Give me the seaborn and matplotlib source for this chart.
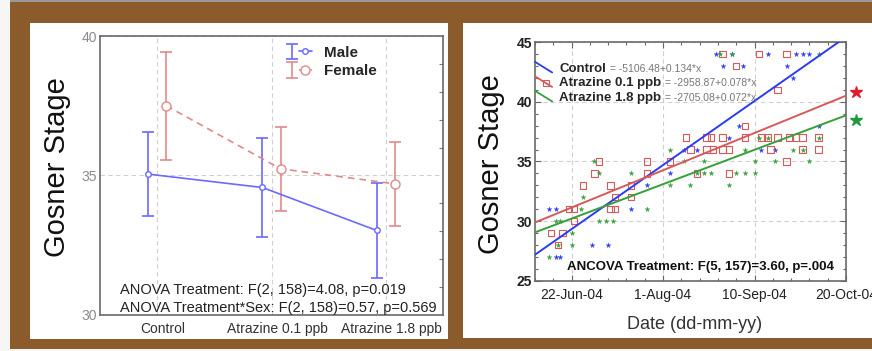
import numpy as np
import pandas as pd
import matplotlib
matplotlib.use("Agg")
import matplotlib.pyplot as plt
import matplotlib.dates as mdates
import matplotlib.transforms as mtransforms
from matplotlib.patches import Rectangle
from matplotlib.lines import Line2D
from matplotlib.legend_handler import HandlerBase, HandlerTuple
from matplotlib.ticker import FixedLocator, MultipleLocator
import seaborn as sns

# ---------------- data: left panel ----------------
treatments = ["Control", "Atrazine 0.1 ppb", "Atrazine 1.8 ppb"]
sexes = ["Male", "Female"]
male_mean = [35.05, 34.57, 33.03]
male_err = [1.50, 1.76, 1.70]
female_mean = [37.50, 35.24, 34.70]
female_err = [1.93, 1.50, 1.50]
left_yticks = [30, 35, 40]
anova_text = ["ANOVA Treatment: F(2, 158)=4.08, p=0.019",
              "ANOVA Treatment*Sex: F(2, 158)=0.57, p=0.569"]

# ---------------- data: right panel ----------------
control_date = ["2004-06-12", "2004-06-15", "2004-06-15", "2004-06-17", "2004-07-01",
                "2004-07-08", "2004-07-18", "2004-07-25", "2004-08-04", "2004-08-10",
                "2004-08-16", "2004-08-24", "2004-08-27", "2004-08-31", "2004-09-05",
                "2004-09-03", "2004-08-30", "2004-09-16", "2004-09-19", "2004-09-13",
                "2004-09-24", "2004-09-27", "2004-09-28", "2004-10-01", "2004-10-04",
                "2004-10-08"]
control_stage = [31, 31, 27, 27, 28, 28, 31, 33, 34, 36, 36, 44, 43, 44, 43, 38, 37,
                 44, 36, 36, 43, 42, 44, 44, 44, 38]

atz01_date = ["2004-06-13", "2004-06-16", "2004-06-18", "2004-06-21", "2004-06-23",
              "2004-06-23", "2004-06-27", "2004-07-02", "2004-07-04", "2004-07-09",
              "2004-07-09", "2004-07-11", "2004-07-11", "2004-07-18", "2004-07-18",
              "2004-07-25", "2004-07-25", "2004-08-04", "2004-08-11", "2004-08-13",
              "2004-08-16", "2004-08-20", "2004-08-22", "2004-08-20", "2004-08-23",
              "2004-08-27", "2004-08-27", "2004-08-30", "2004-08-30", "2004-08-27",
              "2004-09-02", "2004-09-06", "2004-09-06", "2004-09-12", "2004-09-13",
              "2004-09-16", "2004-09-17", "2004-09-20", "2004-09-20", "2004-09-24",
              "2004-09-24", "2004-09-25", "2004-09-28", "2004-10-01", "2004-10-01",
              "2004-10-08", "2004-10-08"]
atz01_stage = [29, 28, 29, 31, 31, 30, 33, 34, 35, 33, 31, 31, 32, 33, 32, 35, 34, 35,
               37, 36, 34, 37, 37, 36, 36, 37, 36, 36, 34, 44, 43, 38, 37, 44, 37, 37,
               36, 37, 41, 35, 44, 37, 37, 37, 36, 37, 36]

atz18_date = ["2004-06-12", "2004-06-16", "2004-06-22", "2004-06-22", "2004-06-17",
              "2004-06-15", "2004-06-26", "2004-06-27", "2004-07-02", "2004-07-04",
              "2004-07-04", "2004-07-07", "2004-07-10", "2004-07-18", "2004-07-25",
              "2004-08-04", "2004-08-04", "2004-08-10", "2004-08-13", "2004-08-16",
              "2004-08-19", "2004-08-19", "2004-08-22", "2004-08-30", "2004-09-02",
              "2004-09-06", "2004-09-10", "2004-09-06", "2004-09-10", "2004-09-12",
              "2004-09-16", "2004-09-19", "2004-09-27", "2004-10-04", "2004-10-08",
              "2004-10-08", "2004-08-31", "2004-08-26", "2004-10-01"]
atz18_stage = [27, 28, 28, 29, 30, 30, 31, 32, 35, 34, 30, 30, 30, 34, 31, 36, 33, 35,
               33, 34, 35, 34, 34, 33, 34, 34, 34, 36, 35, 37, 37, 35, 36, 35, 37, 44,
               44, 44, 36]

fit_groups = ["Control", "Atrazine 0.1 ppb", "Atrazine 1.8 ppb"]
fit_equations = [" = -5106.48+0.134*x", " = -2958.87+0.078*x", " = -2705.08+0.072*x"]
fit_slope_per_day = [0.134, 0.078, 0.072]
fit_value_at_start = [27.2, 29.9, 29.07]
date_start, date_end = "2004-06-06", "2004-10-20"
right_xtick_dates = ["2004-06-22", "2004-08-01", "2004-09-10", "2004-10-20"]
right_xtick_labels = ["22-Jun-04", "1-Aug-04", "10-Sep-04", "20-Oct-04"]
right_yticks = [25, 30, 35, 40, 45]
ancova_text = "ANCOVA Treatment: F(5, 157)=3.60, p=.004"
sig_groups = ["Atrazine 0.1 ppb", "Atrazine 1.8 ppb"]
sig_stage = [40.8, 38.5]

# ---------------- style ----------------
BROWN = "#8b5b2c"
C_MALE = "#6a6aff"
C_FEMALE = "#e08a8a"
group_colors = {"Control": "#2a3cf2", "Atrazine 0.1 ppb": "#d65a5a", "Atrazine 1.8 ppb": "#35a03a"}
star_colors = {"Atrazine 0.1 ppb": "#e01b2a", "Atrazine 1.8 ppb": "#1e9a3c"}
DODGE = 0.08

sns.set_theme(style="white")
plt.rcParams["font.family"] = ["Liberation Sans", "DejaVu Sans"]

W, H = 872, 351
fig = plt.figure(figsize=(W / 100, H / 100), dpi=100, facecolor="#f6f6f4")


def fig_box(x0, y0, x1, y1):
    return [x0 / W, 1 - y1 / H, (x1 - x0) / W, (y1 - y0) / H]


def add_rect(x0, y0, x1, y1, **kw):
    l, b, w, h = fig_box(x0, y0, x1, y1)
    fig.patches.append(Rectangle((l, b), w, h, transform=fig.transFigure, **kw))


add_rect(10, 0, 872, 2, facecolor="#9a9a9a", edgecolor="none", zorder=-5)
add_rect(10, 2, 872, 349, facecolor=BROWN, edgecolor="none", zorder=-5)
add_rect(30, 23, 448, 339, facecolor="white", edgecolor="none", zorder=-4)
add_rect(463, 23, 872, 338, facecolor="white", edgecolor="none", zorder=-4)

axL = fig.add_axes(fig_box(100, 36, 443, 315))
axR = fig.add_axes(fig_box(535, 42, 846, 281))

# ================= LEFT PANEL =================
df_left = pd.DataFrame({
    "treatment": treatments * 2,
    "sex": ["Male"] * 3 + ["Female"] * 3,
    "mean": male_mean + female_mean,
    "err": male_err + female_err,
})
df_left["pos"] = (df_left["treatment"].map({t: i for i, t in enumerate(treatments)})
                  + df_left["sex"].map({"Male": -DODGE, "Female": DODGE}))

styles = {"Male": dict(color=C_MALE, ls="-", ms=4.0),
          "Female": dict(color=C_FEMALE, ls=(0, (4, 3)), ms=6.5)}
handles = []
for sex in sexes:
    d = df_left[df_left["sex"] == sex]
    st = styles[sex]
    sns.lineplot(data=d, x="pos", y="mean", ax=axL, color=st["color"], linestyle=st["ls"],
                 lw=1.2, marker="o", markersize=st["ms"], markerfacecolor="white",
                 markeredgecolor=st["color"], markeredgewidth=1.0, errorbar=None, zorder=3)
    eb = axL.errorbar(d["pos"], d["mean"], yerr=d["err"], fmt="none", ecolor=st["color"],
                      elinewidth=1.2, capsize=4, capthick=1.2, zorder=2)
    proxy = Line2D([], [], color=st["color"], ls=st["ls"], lw=1.2, marker="o", ms=st["ms"],
                   mfc="white", mec=st["color"])
    handles.append((eb, proxy))

axL.legend(handles, sexes, handler_map={tuple: HandlerTuple(ndivide=None)},
           loc="upper left", bbox_to_anchor=(0.542, 0.965), frameon=False,
           prop=dict(weight="bold", size=11), handlelength=1.7, handletextpad=0.8,
           labelspacing=0.3, borderpad=0, borderaxespad=0)

axL.set_xlim(-0.5, 2.5)
axL.set_ylim(30, 40)
axL.set_xticks(range(len(treatments)))
axL.set_xticklabels(treatments)
axL.set_yticks(left_yticks)
axL.yaxis.set_minor_locator(MultipleLocator(1))
axL.grid(True, which="major", ls=(0, (4, 3)), color="#cfcfcf", lw=0.8)
axL.tick_params(axis="y", which="minor", right=True, left=False, direction="in", length=3,
                color="#777777", width=0.8)
axL.tick_params(axis="y", which="major", length=0, pad=2, labelsize=10, labelcolor="#8a8a8a")
axL.tick_params(axis="x", which="major", length=0, pad=5, labelsize=10, labelcolor="#333333")
offset = mtransforms.ScaledTranslation(6 / 100, 0, fig.dpi_scale_trans)
for lab in axL.get_xticklabels():
    lab.set_transform(lab.get_transform() + offset)
for sp in axL.spines.values():
    sp.set_color("#6a6a6a")
    sp.set_linewidth(1.2)
axL.set_xlabel("")
axL.set_ylabel("Gosner Stage", fontsize=21, color="#111111", va="center")
axL.yaxis.set_label_coords(-0.125, 0.53)
for i, t in enumerate(anova_text):
    axL.text(0.058, 0.0896 - i * 0.0645, t, transform=axL.transAxes, fontsize=10.5,
             color="#222222", va="center", ha="left")

# ================= RIGHT PANEL =================
df_pts = pd.concat([
    pd.DataFrame({"date": pd.to_datetime(control_date), "stage": control_stage, "group": "Control"}),
    pd.DataFrame({"date": pd.to_datetime(atz01_date), "stage": atz01_stage, "group": "Atrazine 0.1 ppb"}),
    pd.DataFrame({"date": pd.to_datetime(atz18_date), "stage": atz18_stage, "group": "Atrazine 1.8 ppb"}),
], ignore_index=True)

for g in fit_groups:
    d = df_pts[df_pts["group"] == g]
    c = group_colors[g]
    if g == "Atrazine 0.1 ppb":
        sns.scatterplot(data=d, x="date", y="stage", ax=axR, marker="s", s=20,
                        facecolor="none", edgecolor=c, linewidth=0.8, legend=False, zorder=2)
    else:
        sns.scatterplot(data=d, x="date", y="stage", ax=axR, marker="*", s=14,
                        color=c, edgecolor=c, linewidth=0.2, legend=False, zorder=2)

d0, d1 = pd.Timestamp(date_start), pd.Timestamp(date_end)
ndays = (d1 - d0).days
fit_rows = []
for g, s, v0 in zip(fit_groups, fit_slope_per_day, fit_value_at_start):
    fit_rows += [(g, d0, v0), (g, d1, v0 + s * ndays)]
fit_df = pd.DataFrame(fit_rows, columns=["group", "date", "stage"])
sns.lineplot(data=fit_df, x="date", y="stage", hue="group", palette=group_colors,
             lw=1.4, legend=False, ax=axR, zorder=3)


class HandlerDiagonal(HandlerBase):
    def create_artists(self, legend, orig_handle, xdescent, ydescent, width, height,
                       fontsize, trans):
        x0, x1 = -xdescent, -xdescent + width
        y0, y1 = -ydescent + height * 1.05, -ydescent - height * 0.1
        line = Line2D([x0, x1], [y0, y1], color=orig_handle.get_color(),
                      lw=orig_handle.get_linewidth(), transform=trans)
        arts = [line]
        if orig_handle.get_marker() not in (None, "", "None", " "):
            f = 0.65
            mk = Line2D([x0 + f * (x1 - x0)], [y0 + f * (y1 - y0)], ls="none",
                        marker=orig_handle.get_marker(), ms=orig_handle.get_markersize(),
                        mfc=orig_handle.get_markerfacecolor(),
                        mec=orig_handle.get_markeredgecolor(), mew=0.8, transform=trans)
            arts.append(mk)
        return arts


proxies = []
for g in fit_groups:
    c = group_colors[g]
    if g == "Atrazine 0.1 ppb":
        proxies.append(Line2D([], [], color=c, lw=1.3, marker="s", ms=4.5, mfc="none", mec=c))
    else:
        proxies.append(Line2D([], [], color=c, lw=1.3))
legR = axR.legend(proxies, fit_groups, handler_map={Line2D: HandlerDiagonal()},
                  loc="upper left", bbox_to_anchor=(0.0, 0.915), frameon=False,
                  prop=dict(weight="bold", size=9.5), handlelength=1.3, handletextpad=0.55,
                  labelspacing=0.17, borderpad=0, borderaxespad=0)
for txt, eq in zip(legR.get_texts(), fit_equations):
    axR.annotate(eq, xy=(1, 0.5), xycoords=txt, xytext=(0.5, 0), textcoords="offset points",
                 va="center", ha="left", fontsize=7.5, color="#777777", zorder=6)

axR.set_xlim(d0, d1)
axR.set_ylim(25, 45)
axR.set_xticks(pd.to_datetime(right_xtick_dates))
axR.set_xticklabels(right_xtick_labels)
axR.set_yticks(right_yticks)
axR.xaxis.set_minor_locator(FixedLocator(mdates.date2num(pd.date_range(date_start, date_end, freq="8D"))))
axR.yaxis.set_minor_locator(MultipleLocator(1))
axR.grid(True, which="major", ls=(0, (4, 3)), color="#cfcfcf", lw=0.8)
axR.tick_params(which="both", direction="in", top=True, right=True, bottom=True, left=True,
                color="#666666", width=0.8)
axR.tick_params(which="major", length=4)
axR.tick_params(which="minor", length=2.5)
axR.tick_params(axis="x", which="major", pad=5, labelsize=10, labelcolor="#222222")
axR.tick_params(axis="y", which="major", pad=2, labelsize=10, labelcolor="#222222")
for lab in axR.get_yticklabels():
    lab.set_fontweight("bold")
for sp in axR.spines.values():
    sp.set_color("#6a6a6a")
    sp.set_linewidth(1.2)
axR.set_xlabel("Date (dd-mm-yy)", fontsize=13, color="#333333", va="center")
axR.xaxis.set_label_coords(0.514, -0.18)
axR.set_ylabel("Gosner Stage", fontsize=21, color="#111111", va="center")
axR.yaxis.set_label_coords(-0.141, 0.49)
axR.text(0.103, 0.059, ancova_text, transform=axR.transAxes, fontsize=9.5, weight="bold",
         color="#111111", va="center", ha="left")

sig_trans = mtransforms.blended_transform_factory(axR.transAxes, axR.transData)
for g, y in zip(sig_groups, sig_stage):
    axR.plot([1.032], [y], marker="*", ms=9, color=star_colors[g], ls="none",
             transform=sig_trans, clip_on=False)

fig.canvas.draw()
fig.savefig("out.png", dpi=100, facecolor=fig.get_facecolor())
